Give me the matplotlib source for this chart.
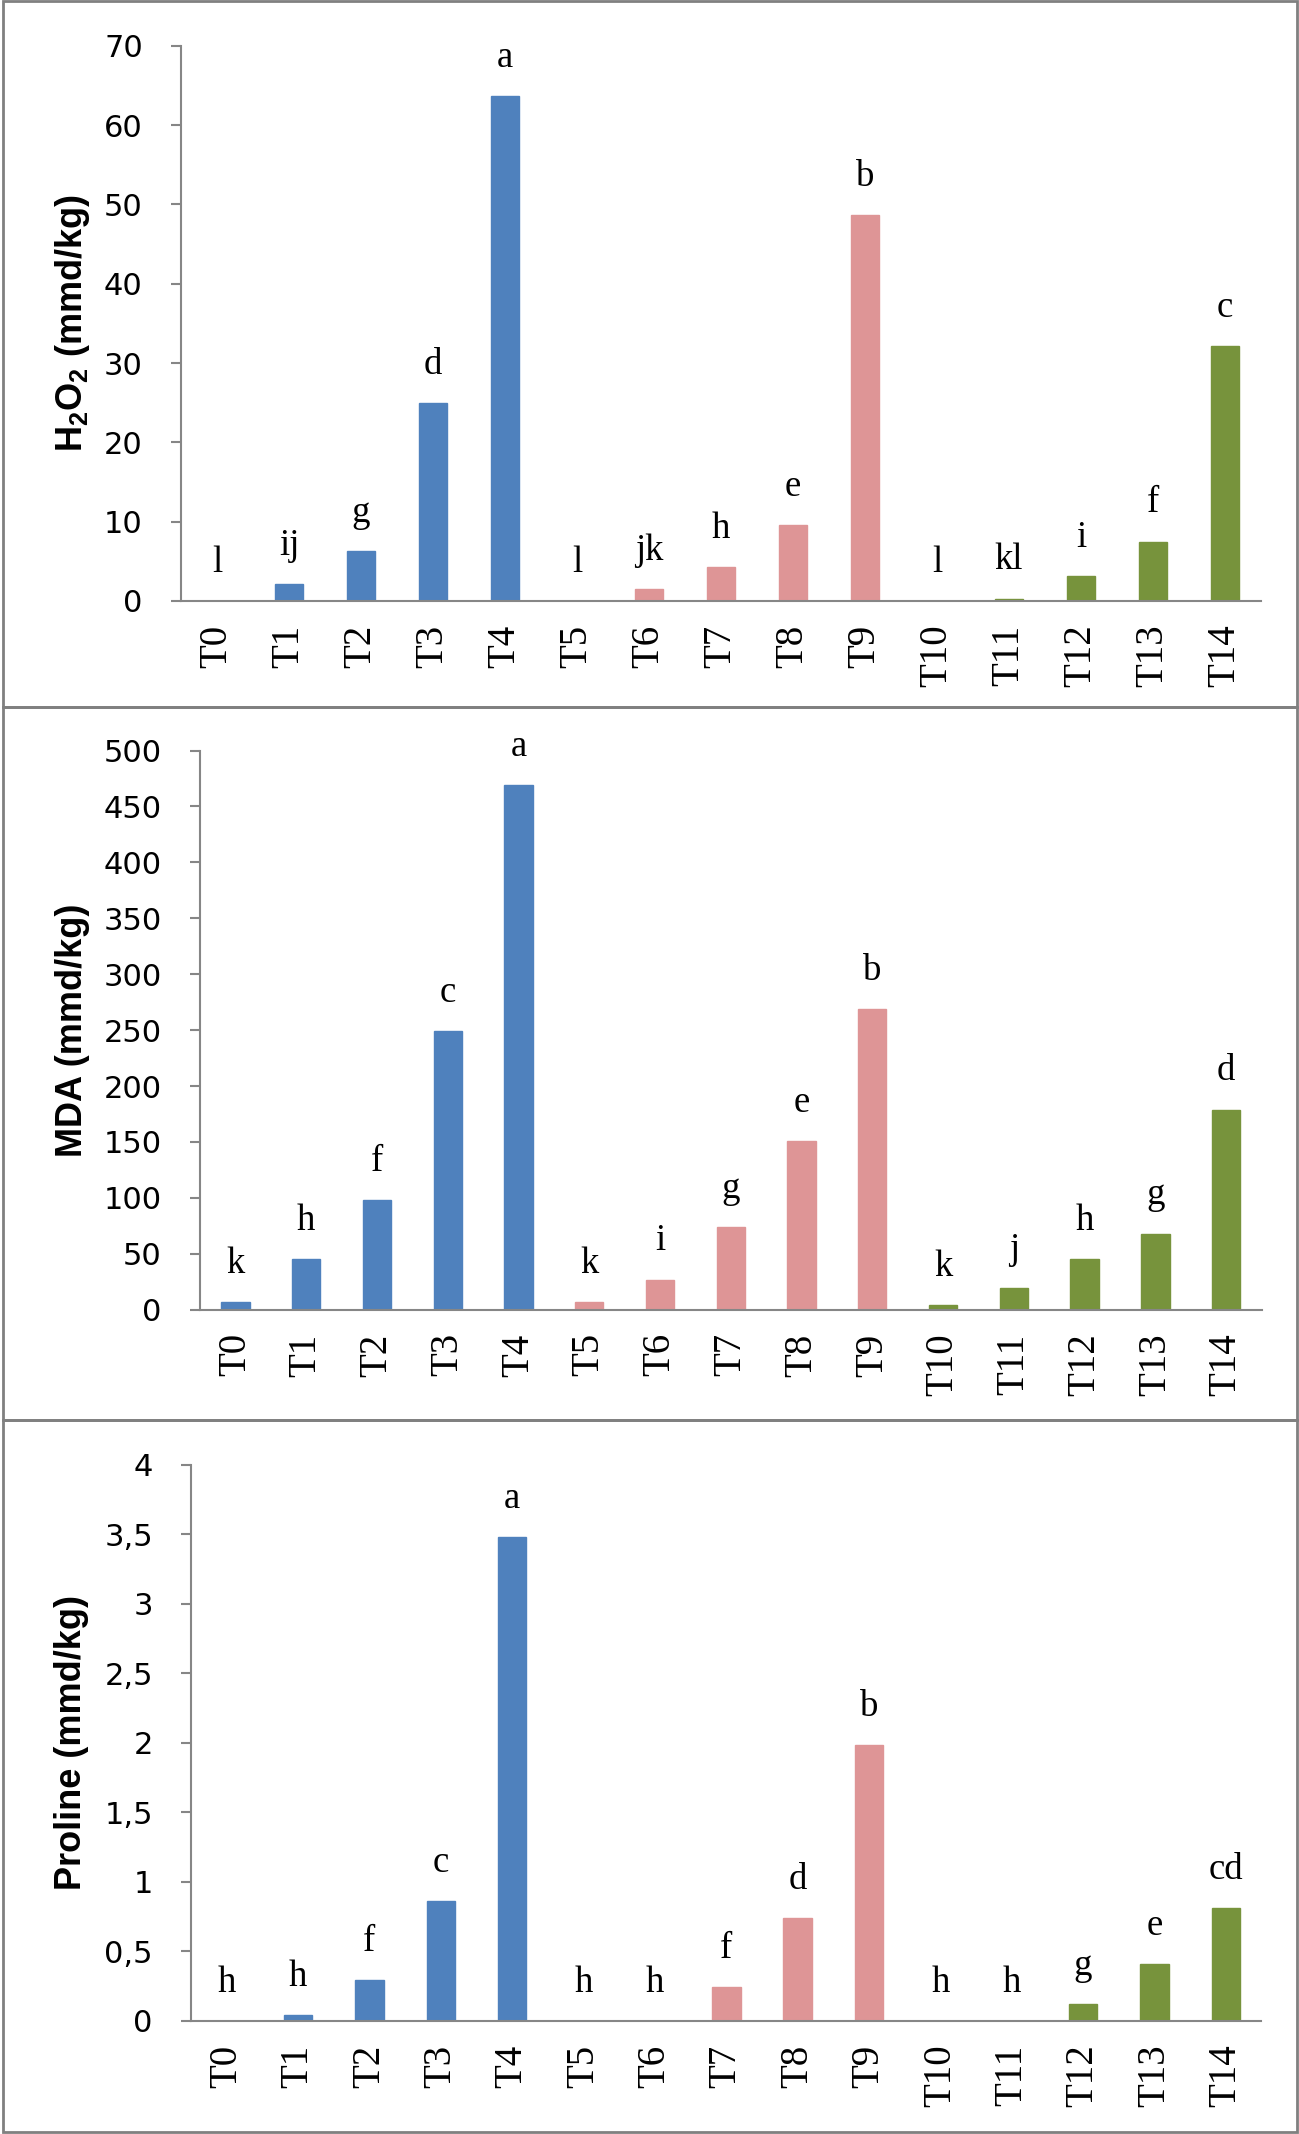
import matplotlib
matplotlib.use("Agg")
import matplotlib.pyplot as plt
from matplotlib.patches import Rectangle

# treatments and values
treatments = ['T0', 'T1', 'T2', 'T3', 'T4', 'T5', 'T6', 'T7',
              'T8', 'T9', 'T10', 'T11', 'T12', 'T13', 'T14']

h2o2 = [0, 2.1, 6.3, 24.9, 63.7, 0, 1.5, 4.3, 9.6, 48.7, 0, 0.3, 3.1, 7.5, 32.1]
h2o2_letters = ['l', 'ij', 'g', 'd', 'a', 'l', 'jk', 'h', 'e', 'b',
                'l', 'kl', 'i', 'f', 'c']

mda = [6.5, 45, 98, 249, 469, 6.5, 27, 74, 151, 269, 4.5, 19.7, 45, 68, 179]
mda_letters = ['k', 'h', 'f', 'c', 'a', 'k', 'i', 'g', 'e', 'b',
               'k', 'j', 'h', 'g', 'd']

proline = [0, 0.04, 0.29, 0.86, 3.48, 0, 0, 0.24, 0.74, 1.98,
           0, 0, 0.12, 0.41, 0.81]
proline_letters = ['h', 'h', 'f', 'c', 'a', 'h', 'h', 'f', 'd', 'b',
                   'h', 'h', 'g', 'e', 'cd']

h2o2_ticks = [0, 10, 20, 30, 40, 50, 60, 70]
mda_ticks = [0, 50, 100, 150, 200, 250, 300, 350, 400, 450, 500]
proline_ticks = [0, 0.5, 1, 1.5, 2, 2.5, 3, 3.5, 4]
proline_ticklabels = ['0', '0,5', '1', '1,5', '2', '2,5', '3', '3,5', '4']

blue = '#4F81BD'
pink = '#DE9596'
green = '#77933C'
colors = [blue] * 5 + [pink] * 5 + [green] * 5

plt.rcParams['mathtext.fontset'] = 'custom'
plt.rcParams['mathtext.bf'] = 'Liberation Sans:bold'
plt.rcParams['mathtext.rm'] = 'Liberation Sans:bold'

W, H = 1299, 2134
fig = plt.figure(figsize=(W / 100, H / 100), dpi=100)

def px_axes(left, right, top, bottom):
    return fig.add_axes([left / W, 1 - bottom / H, (right - left) / W, (bottom - top) / H])

def draw_panel(ax, values, letters, ticks, ticklabels, ylabel, label_y):
    x = range(len(treatments))
    ax.bar(x, values, width=0.4, color=colors, edgecolor=colors, linewidth=1)
    for i, (v, s) in enumerate(zip(values, letters)):
        ax.annotate(s, (i, v), xytext=(0, 21), textcoords='offset points',
                    ha='center', va='baseline', fontsize=26.5,
                    family='Liberation Serif')
    ax.set_xlim(-0.5, len(treatments) - 0.5)
    ax.set_ylim(ticks[0], ticks[-1])
    ax.set_yticks(ticks)
    ax.set_yticklabels(ticklabels, fontsize=22, family='DejaVu Sans')
    ax.set_xticks(list(x))
    ax.set_xticklabels(treatments, rotation=90, fontsize=28,
                       family='Liberation Serif')
    for side in ['top', 'right']:
        ax.spines[side].set_visible(False)
    for side in ['left', 'bottom']:
        ax.spines[side].set_color('#868686')
        ax.spines[side].set_linewidth(1.5)
    ax.tick_params(axis='y', direction='out', length=7.5, width=1.5,
                   color='#868686', pad=20)
    ax.tick_params(axis='x', length=0, pad=17)
    fig.text(72 / W, 1 - label_y / H, ylabel, rotation=90, ha='center',
             va='center', fontsize=26, fontweight='bold',
             family=['Liberation Sans', 'DejaVu Sans'])

ax1 = px_axes(181, 1261, 45.7, 601)
draw_panel(ax1, h2o2, h2o2_letters, h2o2_ticks, [str(t) for t in h2o2_ticks],
           r'$\mathbf{H_2O_2}$ (mmd/kg)', 323)

ax2 = px_axes(200, 1261.5, 750.5, 1309.7)
draw_panel(ax2, mda, mda_letters, mda_ticks, [str(t) for t in mda_ticks],
           'MDA (mmd/kg)', 1030)

ax3 = px_axes(191, 1261.5, 1464.5, 2020.8)
draw_panel(ax3, proline, proline_letters, proline_ticks, proline_ticklabels,
           'Proline (mmd/kg)', 1742)

# grey frames around each panel
for top, bottom in [(1, 707), (707, 1420), (1420, 2132)]:
    fig.patches.append(Rectangle((3 / W, 1 - bottom / H), (W - 5) / W,
                                 (bottom - top) / H, transform=fig.transFigure,
                                 fill=False, edgecolor='#808080', linewidth=2))

fig.savefig('out.png', dpi=100, facecolor='white')
